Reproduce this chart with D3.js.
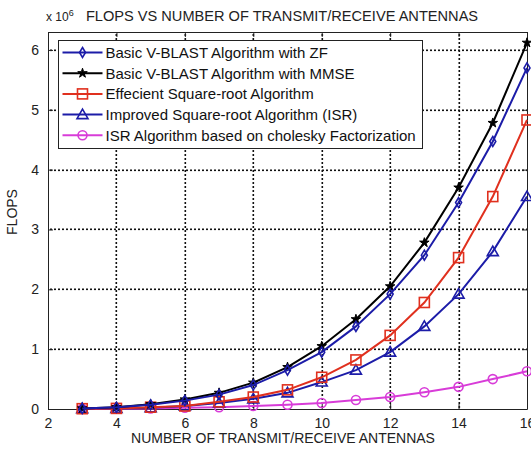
<!DOCTYPE html>
<html>
<head>
<meta charset="utf-8">
<script src="https://cdn.jsdelivr.net/npm/d3@7"></script>
<style>
body { margin: 0; background: #fff; }
svg { font-family: "Liberation Sans", Arial, sans-serif; }
</style>
</head>
<body>
<script>
// antennas
var antennas = [3, 4, 5, 6, 7, 8, 9, 10, 11, 12, 13, 14, 15, 16];
// flops, x 10^6
var zfFlops = [0.01, 0.03, 0.07, 0.14, 0.24, 0.40, 0.65, 0.95, 1.38, 1.92, 2.57, 3.45, 4.47, 5.70];
var mmseFlops = [0.01, 0.03, 0.08, 0.16, 0.27, 0.44, 0.70, 1.05, 1.50, 2.05, 2.78, 3.70, 4.78, 6.12];
var sqrtFlops = [0.005, 0.01, 0.03, 0.05, 0.12, 0.20, 0.32, 0.53, 0.82, 1.23, 1.78, 2.53, 3.55, 4.83];
var isrFlops = [0.005, 0.01, 0.02, 0.05, 0.10, 0.17, 0.27, 0.45, 0.65, 0.95, 1.38, 1.92, 2.63, 3.55];
var cholFlops = [0.002, 0.005, 0.01, 0.02, 0.03, 0.05, 0.07, 0.10, 0.15, 0.20, 0.28, 0.37, 0.50, 0.63];
var seriesNames = [
	"Basic V-BLAST Algorithm with ZF",
	"Basic V-BLAST Algorithm with MMSE",
	"Effecient Square-root Algorithm",
	"Improved Square-root Algorithm (ISR)",
	"ISR Algorithm based on cholesky Factorization"
];
var xTicks = [2, 4, 6, 8, 10, 12, 14, 16];
var yTicks = [0, 1, 2, 3, 4, 5, 6];

var series = [
	{ name: seriesNames[0], values: zfFlops, color: "#1c1ca8", marker: "diamond" },
	{ name: seriesNames[1], values: mmseFlops, color: "#000", marker: "star" },
	{ name: seriesNames[2], values: sqrtFlops, color: "#e0301e", marker: "square" },
	{ name: seriesNames[3], values: isrFlops, color: "#1c1ca8", marker: "triangle" },
	{ name: seriesNames[4], values: cholFlops, color: "#d83cd8", marker: "circle" }
];

var W = 531, H = 450;
var m = { left: 48, right: 4, top: 32, bottom: 41 };

var svg = d3.select("body").append("svg")
	.attr("width", W)
	.attr("height", H);

var x = d3.scaleLinear().domain([2, 16]).range([m.left, W - m.right]);
var y = d3.scaleLinear().domain([0, 6.3]).range([H - m.bottom, m.top]);

// dotted grid, dots along each tick value
var grid = svg.append("g").attr("class", "grid");
xTicks.slice(1, -1).forEach(function(v) {
	grid.selectAll(null)
		.data(d3.range(y(6.3) + 2, y(0), 4))
		.enter().append("rect")
		.attr("x", Math.round(x(v)) - 0.5)
		.attr("y", function(d) { return Math.round(d); })
		.attr("width", 1.6).attr("height", 2)
		.style("fill", "#111");
});
yTicks.slice(1).forEach(function(v) {
	grid.selectAll(null)
		.data(d3.range(x(2) + 2, x(16), 4))
		.enter().append("rect")
		.attr("x", function(d) { return Math.round(d); })
		.attr("y", Math.round(y(v)) - 0.5)
		.attr("width", 2).attr("height", 1.6)
		.style("fill", "#111");
});

// axes, ticks inward
svg.append("g")
	.attr("class", "axis")
	.attr("transform", "translate(0," + y(0) + ")")
	.call(d3.axisBottom(x).tickValues(xTicks).tickFormat(d3.format("d")).tickSizeInner(-5).tickSizeOuter(0).tickPadding(9));
svg.append("g")
	.attr("class", "axis")
	.attr("transform", "translate(" + x(2) + ",0)")
	.call(d3.axisLeft(y).tickValues(yTicks).tickFormat(d3.format("d")).tickSizeInner(-5).tickSizeOuter(0).tickPadding(9));
svg.append("g")
	.attr("class", "axis")
	.attr("transform", "translate(0," + y(6.3) + ")")
	.call(d3.axisTop(x).tickValues(xTicks).tickSizeInner(-5).tickSizeOuter(0).tickFormat(""));
svg.append("g")
	.attr("class", "axis")
	.attr("transform", "translate(" + x(16) + ",0)")
	.call(d3.axisRight(y).tickValues(yTicks).tickSizeInner(-5).tickSizeOuter(0).tickFormat(""));

svg.selectAll(".axis .domain, .axis .tick line").attr("stroke", "#222");
svg.selectAll(".axis .tick text")
	.attr("font-size", 14)
	.attr("fill", "#222")
	.attr("font-family", "Liberation Sans, Arial, sans-serif");

// lines
var line = d3.line()
	.x(function(d) { return x(d[0]); })
	.y(function(d) { return y(d[1]); });

var symbols = {
	diamond: function(g, c) {
		g.append("path").attr("d", "M0,-5L3,0L0,5L-3,0Z")
			.attr("fill", "none").attr("stroke", c).attr("stroke-width", 1.6);
	},
	star: function(g, c) {
		g.append("path").attr("d", d3.symbol().type(d3.symbolStar).size(28)())
			.attr("fill", c).attr("stroke", c).attr("stroke-width", 1);
	},
	square: function(g, c) {
		g.append("rect").attr("x", -5).attr("y", -5).attr("width", 10).attr("height", 10)
			.attr("fill", "none").attr("stroke", c).attr("stroke-width", 1.6);
	},
	triangle: function(g, c) {
		g.append("path").attr("d", "M0,-5.5L5.5,4L-5.5,4Z")
			.attr("fill", "none").attr("stroke", c).attr("stroke-width", 1.6);
	},
	circle: function(g, c) {
		g.append("circle").attr("r", 4.5)
			.attr("fill", "none").attr("stroke", c).attr("stroke-width", 1.6);
	}
};

var plot = svg.append("g");
series.slice().reverse().forEach(function(s) {
	var pts = antennas.map(function(a, i) { return [a, s.values[i]]; });
	plot.append("path")
		.datum(pts)
		.attr("d", line)
		.attr("fill", "none")
		.attr("stroke", s.color)
		.attr("stroke-width", 2);
	pts.forEach(function(p) {
		var g = plot.append("g").attr("transform", "translate(" + x(p[0]) + "," + y(p[1]) + ")");
		symbols[s.marker](g, s.color);
	});
});

// legend
var leg = svg.append("g").attr("transform", "translate(58.5,40.5)");
leg.append("rect")
	.attr("width", 364).attr("height", 108)
	.attr("fill", "#fff").attr("stroke", "#222").attr("stroke-width", 1);
series.forEach(function(s, i) {
	var ly = 12 + i * 20.7;
	leg.append("line")
		.attr("x1", 4).attr("x2", 44)
		.attr("y1", ly).attr("y2", ly)
		.attr("stroke", s.color).attr("stroke-width", 2);
	var g = leg.append("g").attr("transform", "translate(24," + ly + ")");
	symbols[s.marker](g, s.color);
	leg.append("text")
		.attr("x", 47).attr("y", ly + 5.5)
		.attr("font-size", 15)
		.attr("fill", "#111")
		.text(s.name);
});

// titles
var t = svg.append("text").attr("x", 46).attr("y", 21)
	.attr("font-size", 12).attr("fill", "#222");
t.append("tspan").text("x 10");
t.append("tspan").attr("dy", -5).attr("font-size", 9).text("6");

svg.append("text")
	.attr("x", 282).attr("y", 21)
	.attr("text-anchor", "middle")
	.attr("font-size", 14.6)
	.attr("fill", "#222")
	.text("FLOPS VS NUMBER OF TRANSMIT/RECEIVE ANTENNAS");

svg.append("text")
	.attr("x", 283).attr("y", 443)
	.attr("text-anchor", "middle")
	.attr("font-size", 14)
	.attr("fill", "#222")
	.text("NUMBER OF TRANSMIT/RECEIVE ANTENNAS");

svg.append("text")
	.attr("transform", "translate(17,212) rotate(-90)")
	.attr("text-anchor", "middle")
	.attr("font-size", 14)
	.attr("fill", "#222")
	.text("FLOPS");
</script>
</body>
</html>
